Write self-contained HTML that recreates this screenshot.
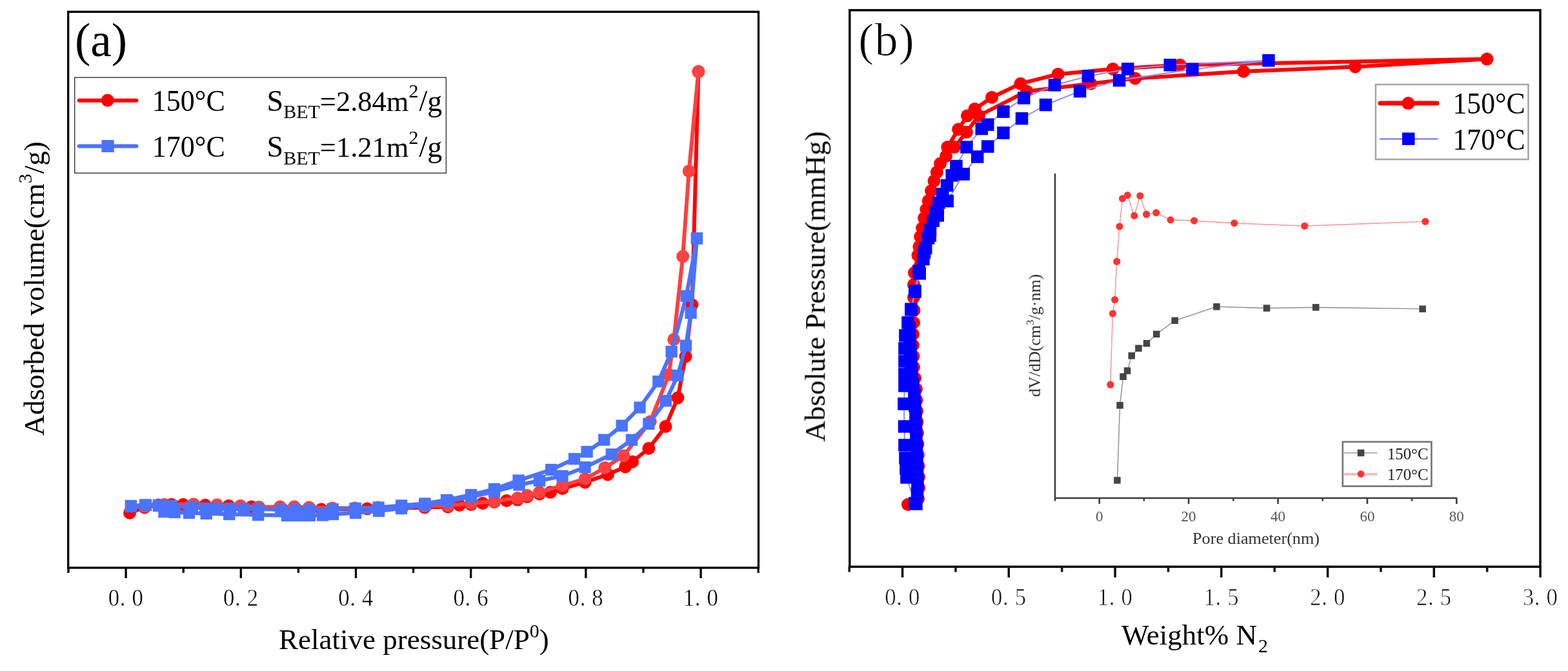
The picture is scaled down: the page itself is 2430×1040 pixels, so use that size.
<!DOCTYPE html>
<html><head><meta charset="utf-8"><title>BET isotherms</title>
<style>html,body{margin:0;padding:0;background:#fff;}svg{display:block;font-family:'Liberation Serif', 'Times New Roman', serif;}</style></head><body>
<svg width="2430" height="1040" viewBox="0 0 2430 1040">
<rect x="0" y="0" width="2430" height="1040" fill="#fff"/>
<g>
<polyline points="201.0,795.0 224.0,786.5 245.3,782.7 265.6,782.1 283.8,782.1 318.0,783.0 354.4,784.0 389.7,785.5 434.0,787.5 456.0,787.5 479.0,788.5 498.0,789.5 515.0,789.5 550.0,789.5 569.0,788.5 586.0,787.5 623.0,787.5 658.0,786.5 694.0,785.5 712.0,783.0 730.0,782.0 748.0,780.0 766.0,778.0 785.0,776.0 802.0,774.6 817.0,770.0 836.0,765.4 853.0,763.0 871.5,757.3 906.6,747.4 941.9,735.4 969.2,723.4 980.0,715.8 1005.4,695.0 1031.5,661.1 1050.4,616.5 1062.5,552.5 1072.5,472.5 1082.4,111.1" fill="none" stroke="#ff0000" stroke-width="6" stroke-linejoin="round" stroke-linecap="round" />
<circle cx="201.0" cy="795.0" r="10" fill="#ff0000"/>
<circle cx="224.0" cy="786.5" r="10" fill="#ff0000"/>
<circle cx="245.3" cy="782.7" r="10" fill="#ff0000"/>
<circle cx="265.6" cy="782.1" r="10" fill="#ff0000"/>
<circle cx="283.8" cy="782.1" r="10" fill="#ff0000"/>
<circle cx="318.0" cy="783.0" r="10" fill="#ff0000"/>
<circle cx="354.4" cy="784.0" r="10" fill="#ff0000"/>
<circle cx="389.7" cy="785.5" r="10" fill="#ff0000"/>
<circle cx="434.0" cy="787.5" r="10" fill="#ff0000"/>
<circle cx="456.0" cy="787.5" r="10" fill="#ff0000"/>
<circle cx="479.0" cy="788.5" r="10" fill="#ff0000"/>
<circle cx="498.0" cy="789.5" r="10" fill="#ff0000"/>
<circle cx="515.0" cy="789.5" r="10" fill="#ff0000"/>
<circle cx="550.0" cy="789.5" r="10" fill="#ff0000"/>
<circle cx="569.0" cy="788.5" r="10" fill="#ff0000"/>
<circle cx="586.0" cy="787.5" r="10" fill="#ff0000"/>
<circle cx="623.0" cy="787.5" r="10" fill="#ff0000"/>
<circle cx="658.0" cy="786.5" r="10" fill="#ff0000"/>
<circle cx="694.0" cy="785.5" r="10" fill="#ff0000"/>
<circle cx="712.0" cy="783.0" r="10" fill="#ff0000"/>
<circle cx="730.0" cy="782.0" r="10" fill="#ff0000"/>
<circle cx="748.0" cy="780.0" r="10" fill="#ff0000"/>
<circle cx="766.0" cy="778.0" r="10" fill="#ff0000"/>
<circle cx="785.0" cy="776.0" r="10" fill="#ff0000"/>
<circle cx="802.0" cy="774.6" r="10" fill="#ff0000"/>
<circle cx="817.0" cy="770.0" r="10" fill="#ff0000"/>
<circle cx="836.0" cy="765.4" r="10" fill="#ff0000"/>
<circle cx="853.0" cy="763.0" r="10" fill="#ff0000"/>
<circle cx="871.5" cy="757.3" r="10" fill="#ff0000"/>
<circle cx="906.6" cy="747.4" r="10" fill="#ff0000"/>
<circle cx="941.9" cy="735.4" r="10" fill="#ff0000"/>
<circle cx="969.2" cy="723.4" r="10" fill="#ff0000"/>
<circle cx="980.0" cy="715.8" r="10" fill="#ff0000"/>
<circle cx="1005.4" cy="695.0" r="10" fill="#ff0000"/>
<circle cx="1031.5" cy="661.1" r="10" fill="#ff0000"/>
<circle cx="1050.4" cy="616.5" r="10" fill="#ff0000"/>
<circle cx="1062.5" cy="552.5" r="10" fill="#ff0000"/>
<circle cx="1072.5" cy="472.5" r="10" fill="#ff0000"/>
<circle cx="1082.4" cy="111.1" r="10" fill="#ff0000"/>
<polyline points="1082.4,111.1 1067.7,265.2 1058.2,397.5 1044.2,526.2 1036.5,580.8 1007.7,653.5 966.2,706.5 937.3,725.0 906.6,742.3 871.5,752.7 835.8,763.0 817.0,768.0 802.0,772.0 766.0,777.0 730.0,780.0 694.0,783.5 658.0,784.5 622.0,785.5 586.0,786.5 550.0,787.5 515.0,787.5 479.0,786.5 456.0,785.5 434.0,785.5 401.5,786.0 372.6,784.0 336.2,782.5 300.0,781.5 254.9,782.0 224.0,785.0" fill="none" stroke="#ff4040" stroke-width="6" stroke-linejoin="round" stroke-linecap="round" />
<circle cx="1082.4" cy="111.1" r="10" fill="#ff4040"/>
<circle cx="1067.7" cy="265.2" r="10" fill="#ff4040"/>
<circle cx="1058.2" cy="397.5" r="10" fill="#ff4040"/>
<circle cx="1044.2" cy="526.2" r="10" fill="#ff4040"/>
<circle cx="1036.5" cy="580.8" r="10" fill="#ff4040"/>
<circle cx="1007.7" cy="653.5" r="10" fill="#ff4040"/>
<circle cx="966.2" cy="706.5" r="10" fill="#ff4040"/>
<circle cx="937.3" cy="725.0" r="10" fill="#ff4040"/>
<circle cx="906.6" cy="742.3" r="10" fill="#ff4040"/>
<circle cx="871.5" cy="752.7" r="10" fill="#ff4040"/>
<circle cx="835.8" cy="763.0" r="10" fill="#ff4040"/>
<circle cx="817.0" cy="768.0" r="10" fill="#ff4040"/>
<circle cx="802.0" cy="772.0" r="10" fill="#ff4040"/>
<circle cx="766.0" cy="777.0" r="10" fill="#ff4040"/>
<circle cx="730.0" cy="780.0" r="10" fill="#ff4040"/>
<circle cx="694.0" cy="783.5" r="10" fill="#ff4040"/>
<circle cx="658.0" cy="784.5" r="10" fill="#ff4040"/>
<circle cx="622.0" cy="785.5" r="10" fill="#ff4040"/>
<circle cx="586.0" cy="786.5" r="10" fill="#ff4040"/>
<circle cx="550.0" cy="787.5" r="10" fill="#ff4040"/>
<circle cx="515.0" cy="787.5" r="10" fill="#ff4040"/>
<circle cx="479.0" cy="786.5" r="10" fill="#ff4040"/>
<circle cx="456.0" cy="785.5" r="10" fill="#ff4040"/>
<circle cx="434.0" cy="785.5" r="10" fill="#ff4040"/>
<circle cx="401.5" cy="786.0" r="10" fill="#ff4040"/>
<circle cx="372.6" cy="784.0" r="10" fill="#ff4040"/>
<circle cx="336.2" cy="782.5" r="10" fill="#ff4040"/>
<circle cx="300.0" cy="781.5" r="10" fill="#ff4040"/>
<circle cx="254.9" cy="782.0" r="10" fill="#ff4040"/>
<circle cx="224.0" cy="785.0" r="10" fill="#ff4040"/>
<polyline points="203.0,784.0 226.0,783.0 246.0,784.0 254.5,793.3 270.5,794.0 293.0,795.0 319.6,796.0 355.2,797.0 400.0,798.1 445.0,799.0 463.0,799.0 480.0,799.0 500.0,798.5 516.0,797.0 551.0,795.0 587.0,792.0 622.0,788.0 658.0,783.0 694.0,777.0 730.0,770.0 766.0,762.0 804.6,751.5 836.0,745.0 871.5,737.7 906.6,724.3 947.7,704.2 978.9,681.8 1005.4,656.9 1031.9,621.2 1050.4,581.9 1063.0,535.7 1070.7,485.0 1080.0,369.5" fill="none" stroke="#4a73ff" stroke-width="6" stroke-linejoin="round" stroke-linecap="round" />
<rect x="193.8" y="774.9" width="18.3" height="18.3" fill="#4a73ff"/>
<rect x="216.8" y="773.9" width="18.3" height="18.3" fill="#4a73ff"/>
<rect x="236.8" y="774.9" width="18.3" height="18.3" fill="#4a73ff"/>
<rect x="245.3" y="784.1" width="18.3" height="18.3" fill="#4a73ff"/>
<rect x="261.4" y="784.9" width="18.3" height="18.3" fill="#4a73ff"/>
<rect x="283.9" y="785.9" width="18.3" height="18.3" fill="#4a73ff"/>
<rect x="310.5" y="786.9" width="18.3" height="18.3" fill="#4a73ff"/>
<rect x="346.1" y="787.9" width="18.3" height="18.3" fill="#4a73ff"/>
<rect x="390.9" y="789.0" width="18.3" height="18.3" fill="#4a73ff"/>
<rect x="435.9" y="789.9" width="18.3" height="18.3" fill="#4a73ff"/>
<rect x="453.9" y="789.9" width="18.3" height="18.3" fill="#4a73ff"/>
<rect x="470.9" y="789.9" width="18.3" height="18.3" fill="#4a73ff"/>
<rect x="490.9" y="789.4" width="18.3" height="18.3" fill="#4a73ff"/>
<rect x="506.9" y="787.9" width="18.3" height="18.3" fill="#4a73ff"/>
<rect x="541.9" y="785.9" width="18.3" height="18.3" fill="#4a73ff"/>
<rect x="577.9" y="782.9" width="18.3" height="18.3" fill="#4a73ff"/>
<rect x="612.9" y="778.9" width="18.3" height="18.3" fill="#4a73ff"/>
<rect x="648.9" y="773.9" width="18.3" height="18.3" fill="#4a73ff"/>
<rect x="684.9" y="767.9" width="18.3" height="18.3" fill="#4a73ff"/>
<rect x="720.9" y="760.9" width="18.3" height="18.3" fill="#4a73ff"/>
<rect x="756.9" y="752.9" width="18.3" height="18.3" fill="#4a73ff"/>
<rect x="795.5" y="742.4" width="18.3" height="18.3" fill="#4a73ff"/>
<rect x="826.9" y="735.9" width="18.3" height="18.3" fill="#4a73ff"/>
<rect x="862.4" y="728.6" width="18.3" height="18.3" fill="#4a73ff"/>
<rect x="897.5" y="715.1" width="18.3" height="18.3" fill="#4a73ff"/>
<rect x="938.6" y="695.1" width="18.3" height="18.3" fill="#4a73ff"/>
<rect x="969.8" y="672.6" width="18.3" height="18.3" fill="#4a73ff"/>
<rect x="996.2" y="647.8" width="18.3" height="18.3" fill="#4a73ff"/>
<rect x="1022.8" y="612.1" width="18.3" height="18.3" fill="#4a73ff"/>
<rect x="1041.2" y="572.8" width="18.3" height="18.3" fill="#4a73ff"/>
<rect x="1053.8" y="526.6" width="18.3" height="18.3" fill="#4a73ff"/>
<rect x="1061.5" y="475.9" width="18.3" height="18.3" fill="#4a73ff"/>
<rect x="1070.8" y="360.4" width="18.3" height="18.3" fill="#4a73ff"/>
<polyline points="1080.0,369.5 1063.7,458.7 1040.7,545.0 1020.4,591.2 991.5,631.5 963.8,659.7 936.2,681.8 909.6,700.3 890.0,711.2 854.2,728.0 803.5,744.6 766.0,758.0 730.0,767.0 692.0,775.0 658.5,780.5 622.2,783.5 586.5,786.5 550.8,788.0 515.6,789.0 479.3,790.0 456.9,790.0 435.0,790.0 400.0,789.0 378.0,789.0 357.0,788.0 336.0,788.0 318.0,788.0 298.0,786.0 266.0,784.0 246.0,783.0 225.0,782.5 203.0,785.0" fill="none" stroke="#4a73ff" stroke-width="6" stroke-linejoin="round" stroke-linecap="round" />
<rect x="1070.8" y="360.4" width="18.3" height="18.3" fill="#4a73ff"/>
<rect x="1054.5" y="449.6" width="18.3" height="18.3" fill="#4a73ff"/>
<rect x="1031.5" y="535.9" width="18.3" height="18.3" fill="#4a73ff"/>
<rect x="1011.2" y="582.1" width="18.3" height="18.3" fill="#4a73ff"/>
<rect x="982.4" y="622.4" width="18.3" height="18.3" fill="#4a73ff"/>
<rect x="954.6" y="650.6" width="18.3" height="18.3" fill="#4a73ff"/>
<rect x="927.1" y="672.6" width="18.3" height="18.3" fill="#4a73ff"/>
<rect x="900.5" y="691.1" width="18.3" height="18.3" fill="#4a73ff"/>
<rect x="880.9" y="702.1" width="18.3" height="18.3" fill="#4a73ff"/>
<rect x="845.1" y="718.9" width="18.3" height="18.3" fill="#4a73ff"/>
<rect x="794.4" y="735.5" width="18.3" height="18.3" fill="#4a73ff"/>
<rect x="756.9" y="748.9" width="18.3" height="18.3" fill="#4a73ff"/>
<rect x="720.9" y="757.9" width="18.3" height="18.3" fill="#4a73ff"/>
<rect x="682.9" y="765.9" width="18.3" height="18.3" fill="#4a73ff"/>
<rect x="649.4" y="771.4" width="18.3" height="18.3" fill="#4a73ff"/>
<rect x="613.1" y="774.4" width="18.3" height="18.3" fill="#4a73ff"/>
<rect x="577.4" y="777.4" width="18.3" height="18.3" fill="#4a73ff"/>
<rect x="541.6" y="778.9" width="18.3" height="18.3" fill="#4a73ff"/>
<rect x="506.5" y="779.9" width="18.3" height="18.3" fill="#4a73ff"/>
<rect x="470.2" y="780.9" width="18.3" height="18.3" fill="#4a73ff"/>
<rect x="447.8" y="780.9" width="18.3" height="18.3" fill="#4a73ff"/>
<rect x="425.9" y="780.9" width="18.3" height="18.3" fill="#4a73ff"/>
<rect x="390.9" y="779.9" width="18.3" height="18.3" fill="#4a73ff"/>
<rect x="368.9" y="779.9" width="18.3" height="18.3" fill="#4a73ff"/>
<rect x="347.9" y="778.9" width="18.3" height="18.3" fill="#4a73ff"/>
<rect x="326.9" y="778.9" width="18.3" height="18.3" fill="#4a73ff"/>
<rect x="308.9" y="778.9" width="18.3" height="18.3" fill="#4a73ff"/>
<rect x="288.9" y="776.9" width="18.3" height="18.3" fill="#4a73ff"/>
<rect x="256.9" y="774.9" width="18.3" height="18.3" fill="#4a73ff"/>
<rect x="236.8" y="773.9" width="18.3" height="18.3" fill="#4a73ff"/>
<rect x="215.8" y="773.4" width="18.3" height="18.3" fill="#4a73ff"/>
<rect x="193.8" y="775.9" width="18.3" height="18.3" fill="#4a73ff"/>
</g>
<rect x="105.7" y="18.3" width="1069.8" height="861.7" fill="none" stroke="#000" stroke-width="3.3"/>
<path d="M106.0,880.0V888.0M195.1,880.0V896.0M284.2,880.0V888.0M373.3,880.0V896.0M462.4,880.0V888.0M551.5,880.0V896.0M640.6,880.0V888.0M729.7,880.0V896.0M818.8,880.0V888.0M907.9,880.0V896.0M997.0,880.0V888.0M1086.1,880.0V896.0M1175.2,880.0V888.0" stroke="#000" stroke-width="3.3" fill="none"/>
<g transform="translate(195.1,939.4) scale(0.94,1)"><text font-size="37" fill="#000" text-anchor="middle" stroke="#fff" stroke-width="0.5"><tspan x="-19.8" y="0">0</tspan><tspan x="-5.2" y="0">.</tspan><tspan x="19.3" y="0">0</tspan></text></g>
<g transform="translate(373.3,939.4) scale(0.94,1)"><text font-size="37" fill="#000" text-anchor="middle" stroke="#fff" stroke-width="0.5"><tspan x="-19.8" y="0">0</tspan><tspan x="-5.2" y="0">.</tspan><tspan x="19.3" y="0">2</tspan></text></g>
<g transform="translate(551.5,939.4) scale(0.94,1)"><text font-size="37" fill="#000" text-anchor="middle" stroke="#fff" stroke-width="0.5"><tspan x="-19.8" y="0">0</tspan><tspan x="-5.2" y="0">.</tspan><tspan x="19.3" y="0">4</tspan></text></g>
<g transform="translate(729.7,939.4) scale(0.94,1)"><text font-size="37" fill="#000" text-anchor="middle" stroke="#fff" stroke-width="0.5"><tspan x="-19.8" y="0">0</tspan><tspan x="-5.2" y="0">.</tspan><tspan x="19.3" y="0">6</tspan></text></g>
<g transform="translate(907.9,939.4) scale(0.94,1)"><text font-size="37" fill="#000" text-anchor="middle" stroke="#fff" stroke-width="0.5"><tspan x="-19.8" y="0">0</tspan><tspan x="-5.2" y="0">.</tspan><tspan x="19.3" y="0">8</tspan></text></g>
<g transform="translate(1086.1,939.4) scale(0.94,1)"><text font-size="37" fill="#000" text-anchor="middle" stroke="#fff" stroke-width="0.5"><tspan x="-19.8" y="0">1</tspan><tspan x="-5.2" y="0">.</tspan><tspan x="19.3" y="0">0</tspan></text></g>
<text x="116" y="86.6" font-size="73" text-anchor="start" fill="#000" >(a)</text>
<rect x="115.7" y="120.1" width="575.7" height="148.2" fill="#fff" stroke="#404040" stroke-width="1.5"/>
<line x1="122.7" y1="155.8" x2="211.5" y2="155.8" stroke="#ff0000" stroke-width="6" stroke-linecap="round"/>
<circle cx="166.7" cy="155.5" r="10" fill="#ff0000"/>
<line x1="122.7" y1="226.4" x2="211.5" y2="226.4" stroke="#4a73ff" stroke-width="6" stroke-linecap="round"/>
<rect x="157.4" y="217" width="19.3" height="19" fill="#4a73ff"/>
<text x="235.8" y="171.6" font-size="47" text-anchor="start" fill="#000" textLength="113" lengthAdjust="spacingAndGlyphs">150°C</text>
<text x="235.8" y="242.8" font-size="47" text-anchor="start" fill="#000" textLength="113" lengthAdjust="spacingAndGlyphs">170°C</text>
<text y="171.8" font-size="46"><tspan x="413.6">S</tspan><tspan font-size="30" dy="11.5">BET</tspan><tspan font-size="44.5" dy="-11.5">=2.84m</tspan><tspan font-size="30" dy="-20.5">2</tspan><tspan font-size="46" dx="1" dy="20.5">/g</tspan></text>
<text y="243.1" font-size="46"><tspan x="413.6">S</tspan><tspan font-size="30" dy="11.5">BET</tspan><tspan font-size="44.5" dy="-11.5">=1.21m</tspan><tspan font-size="30" dy="-20.5">2</tspan><tspan font-size="46" dx="1" dy="20.5">/g</tspan></text>
<text transform="translate(67.8,675.5) rotate(-90)" font-size="45">Adsorbed volume(cm<tspan font-size="30" dy="-19">3</tspan><tspan dy="19">/g)</tspan></text>
<text x="432" y="1005.9" font-size="45">Relative pressure(P/P<tspan font-size="30" dy="-18">0</tspan><tspan dy="18">)</tspan></text>
<defs><filter id="soft" filterUnits="userSpaceOnUse" x="1200" y="0" width="1230" height="1040"><feGaussianBlur stdDeviation="0.55"/></filter></defs>
<g filter="url(#soft)">
<g>
<polyline points="1407.0,782.0 1423.0,773.0 1424.0,756.0 1424.0,739.0 1423.5,722.0 1423.0,705.0 1422.5,688.0 1422.0,671.0 1421.5,654.0 1421.0,637.0 1420.5,620.0 1420.0,603.0 1418.0,586.0 1416.0,569.0 1415.5,552.0 1415.0,535.0 1415.0,518.0 1416.0,500.0 1416.5,481.0 1416.0,461.0 1416.0,441.0 1417.0,422.7 1422.5,395.8 1426.3,366.9 1432.1,338.1 1438.8,311.2 1447.5,280.4 1457.1,253.5 1468.3,228.1 1485.2,200.6 1499.0,179.4 1510.6,168.9 1537.1,150.9 1581.5,129.7 1639.7,114.9 1724.6,106.9 1828.5,100.8 2304.4,91.6" fill="none" stroke="#ff0000" stroke-width="6" stroke-linejoin="round" stroke-linecap="round" />
<polyline points="2304.4,91.6 2100.3,103.5 1927.0,110.8 1759.2,121.5 1690.5,129.7 1591.0,141.4 1517.0,179.4 1497.9,204.8 1478.9,228.1 1466.0,242.0 1451.9,266.9 1443.1,295.8 1435.4,324.6 1429.2,353.5 1424.4,382.3 1420.0,410.0 1418.0,430.0" fill="none" stroke="#ff0000" stroke-width="6" stroke-linejoin="round" stroke-linecap="round" />
<circle cx="1407.0" cy="782.0" r="10" fill="#ff0000"/>
<circle cx="1423.0" cy="773.0" r="10" fill="#ff0000"/>
<circle cx="1424.0" cy="756.0" r="10" fill="#ff0000"/>
<circle cx="1424.0" cy="739.0" r="10" fill="#ff0000"/>
<circle cx="1423.5" cy="722.0" r="10" fill="#ff0000"/>
<circle cx="1423.0" cy="705.0" r="10" fill="#ff0000"/>
<circle cx="1422.5" cy="688.0" r="10" fill="#ff0000"/>
<circle cx="1422.0" cy="671.0" r="10" fill="#ff0000"/>
<circle cx="1421.5" cy="654.0" r="10" fill="#ff0000"/>
<circle cx="1421.0" cy="637.0" r="10" fill="#ff0000"/>
<circle cx="1420.5" cy="620.0" r="10" fill="#ff0000"/>
<circle cx="1420.0" cy="603.0" r="10" fill="#ff0000"/>
<circle cx="1418.0" cy="586.0" r="10" fill="#ff0000"/>
<circle cx="1416.0" cy="569.0" r="10" fill="#ff0000"/>
<circle cx="1415.5" cy="552.0" r="10" fill="#ff0000"/>
<circle cx="1415.0" cy="535.0" r="10" fill="#ff0000"/>
<circle cx="1415.0" cy="518.0" r="10" fill="#ff0000"/>
<circle cx="1416.0" cy="500.0" r="10" fill="#ff0000"/>
<circle cx="1416.5" cy="481.0" r="10" fill="#ff0000"/>
<circle cx="1416.0" cy="461.0" r="10" fill="#ff0000"/>
<circle cx="1416.0" cy="441.0" r="10" fill="#ff0000"/>
<circle cx="1417.0" cy="422.7" r="10" fill="#ff0000"/>
<circle cx="1422.5" cy="395.8" r="10" fill="#ff0000"/>
<circle cx="1426.3" cy="366.9" r="10" fill="#ff0000"/>
<circle cx="1432.1" cy="338.1" r="10" fill="#ff0000"/>
<circle cx="1438.8" cy="311.2" r="10" fill="#ff0000"/>
<circle cx="1447.5" cy="280.4" r="10" fill="#ff0000"/>
<circle cx="1457.1" cy="253.5" r="10" fill="#ff0000"/>
<circle cx="1468.3" cy="228.1" r="10" fill="#ff0000"/>
<circle cx="1485.2" cy="200.6" r="10" fill="#ff0000"/>
<circle cx="1499.0" cy="179.4" r="10" fill="#ff0000"/>
<circle cx="1510.6" cy="168.9" r="10" fill="#ff0000"/>
<circle cx="1537.1" cy="150.9" r="10" fill="#ff0000"/>
<circle cx="1581.5" cy="129.7" r="10" fill="#ff0000"/>
<circle cx="1639.7" cy="114.9" r="10" fill="#ff0000"/>
<circle cx="1724.6" cy="106.9" r="10" fill="#ff0000"/>
<circle cx="1828.5" cy="100.8" r="10" fill="#ff0000"/>
<circle cx="2304.4" cy="91.6" r="10" fill="#ff0000"/>
<circle cx="2100.3" cy="103.5" r="10" fill="#ff0000"/>
<circle cx="1927.0" cy="110.8" r="10" fill="#ff0000"/>
<circle cx="1759.2" cy="121.5" r="10" fill="#ff0000"/>
<circle cx="1690.5" cy="129.7" r="10" fill="#ff0000"/>
<circle cx="1591.0" cy="141.4" r="10" fill="#ff0000"/>
<circle cx="1517.0" cy="179.4" r="10" fill="#ff0000"/>
<circle cx="1497.9" cy="204.8" r="10" fill="#ff0000"/>
<circle cx="1478.9" cy="228.1" r="10" fill="#ff0000"/>
<circle cx="1466.0" cy="242.0" r="10" fill="#ff0000"/>
<circle cx="1451.9" cy="266.9" r="10" fill="#ff0000"/>
<circle cx="1443.1" cy="295.8" r="10" fill="#ff0000"/>
<circle cx="1435.4" cy="324.6" r="10" fill="#ff0000"/>
<circle cx="1429.2" cy="353.5" r="10" fill="#ff0000"/>
<circle cx="1424.4" cy="382.3" r="10" fill="#ff0000"/>
<polyline points="1420.0,781.0 1421.5,765.0 1422.0,748.0 1421.5,731.0 1421.0,714.0 1420.5,697.0 1420.0,680.0 1419.5,663.0 1419.0,646.0 1418.0,629.0 1417.0,612.0 1415.0,595.0 1413.0,578.0 1412.0,561.0 1411.0,544.0 1410.0,526.0 1409.4,507.7 1412.3,479.2 1417.8,452.2 1425.2,423.8 1431.0,401.7 1434.8,384.4 1438.6,369.0 1441.5,356.5 1446.3,342.1 1450.2,328.6 1455.0,314.2 1460.8,300.8 1467.5,287.3 1475.2,271.9 1481.9,257.5 1497.9,228.1 1521.2,199.6 1530.7,193.2 1555.0,173.1 1586.8,152.0 1634.4,131.8 1686.2,118.1 1747.7,106.9 1813.2,100.8 1966.0,93.7" fill="none" stroke="#8c8cff" stroke-width="2" stroke-linejoin="round" stroke-linecap="round" />
<polyline points="1966.0,93.7 1848.0,107.4 1734.6,124.6 1673.5,141.4 1620.6,162.5 1583.6,183.7 1555.0,205.9 1530.7,227.1 1514.8,243.0 1493.3,269.8 1468.3,311.5 1453.3,334.0 1441.2,365.0 1432.6,391.0 1424.0,420.0 1418.0,451.0 1412.0,480.0 1407.0,500.0 1403.0,520.0 1402.0,540.0 1402.0,560.0 1402.0,580.0 1402.0,598.0 1401.0,626.0 1401.5,661.0 1402.0,690.0 1403.0,710.0 1404.0,726.0 1405.0,740.0 1418.0,780.0" fill="none" stroke="#8c8cff" stroke-width="2" stroke-linejoin="round" stroke-linecap="round" />
<rect x="1410.2" y="771.2" width="19.5" height="19.5" fill="#0000ff"/>
<rect x="1411.8" y="755.2" width="19.5" height="19.5" fill="#0000ff"/>
<rect x="1412.2" y="738.2" width="19.5" height="19.5" fill="#0000ff"/>
<rect x="1411.8" y="721.2" width="19.5" height="19.5" fill="#0000ff"/>
<rect x="1411.2" y="704.2" width="19.5" height="19.5" fill="#0000ff"/>
<rect x="1410.8" y="687.2" width="19.5" height="19.5" fill="#0000ff"/>
<rect x="1410.2" y="670.2" width="19.5" height="19.5" fill="#0000ff"/>
<rect x="1409.8" y="653.2" width="19.5" height="19.5" fill="#0000ff"/>
<rect x="1409.2" y="636.2" width="19.5" height="19.5" fill="#0000ff"/>
<rect x="1408.2" y="619.2" width="19.5" height="19.5" fill="#0000ff"/>
<rect x="1407.2" y="602.2" width="19.5" height="19.5" fill="#0000ff"/>
<rect x="1405.2" y="585.2" width="19.5" height="19.5" fill="#0000ff"/>
<rect x="1403.2" y="568.2" width="19.5" height="19.5" fill="#0000ff"/>
<rect x="1402.2" y="551.2" width="19.5" height="19.5" fill="#0000ff"/>
<rect x="1401.2" y="534.2" width="19.5" height="19.5" fill="#0000ff"/>
<rect x="1400.2" y="516.2" width="19.5" height="19.5" fill="#0000ff"/>
<rect x="1399.7" y="497.9" width="19.5" height="19.5" fill="#0000ff"/>
<rect x="1402.5" y="469.4" width="19.5" height="19.5" fill="#0000ff"/>
<rect x="1408.0" y="442.4" width="19.5" height="19.5" fill="#0000ff"/>
<rect x="1415.5" y="414.1" width="19.5" height="19.5" fill="#0000ff"/>
<rect x="1421.2" y="391.9" width="19.5" height="19.5" fill="#0000ff"/>
<rect x="1425.0" y="374.6" width="19.5" height="19.5" fill="#0000ff"/>
<rect x="1428.8" y="359.2" width="19.5" height="19.5" fill="#0000ff"/>
<rect x="1431.8" y="346.8" width="19.5" height="19.5" fill="#0000ff"/>
<rect x="1436.5" y="332.4" width="19.5" height="19.5" fill="#0000ff"/>
<rect x="1440.5" y="318.9" width="19.5" height="19.5" fill="#0000ff"/>
<rect x="1445.2" y="304.4" width="19.5" height="19.5" fill="#0000ff"/>
<rect x="1451.0" y="291.1" width="19.5" height="19.5" fill="#0000ff"/>
<rect x="1457.8" y="277.6" width="19.5" height="19.5" fill="#0000ff"/>
<rect x="1465.5" y="262.1" width="19.5" height="19.5" fill="#0000ff"/>
<rect x="1472.2" y="247.8" width="19.5" height="19.5" fill="#0000ff"/>
<rect x="1488.2" y="218.3" width="19.5" height="19.5" fill="#0000ff"/>
<rect x="1511.5" y="189.8" width="19.5" height="19.5" fill="#0000ff"/>
<rect x="1521.0" y="183.4" width="19.5" height="19.5" fill="#0000ff"/>
<rect x="1545.2" y="163.3" width="19.5" height="19.5" fill="#0000ff"/>
<rect x="1577.0" y="142.2" width="19.5" height="19.5" fill="#0000ff"/>
<rect x="1624.7" y="122.1" width="19.5" height="19.5" fill="#0000ff"/>
<rect x="1676.5" y="108.3" width="19.5" height="19.5" fill="#0000ff"/>
<rect x="1738.0" y="97.2" width="19.5" height="19.5" fill="#0000ff"/>
<rect x="1803.5" y="91.0" width="19.5" height="19.5" fill="#0000ff"/>
<rect x="1956.2" y="84.0" width="19.5" height="19.5" fill="#0000ff"/>
<rect x="1838.2" y="97.7" width="19.5" height="19.5" fill="#0000ff"/>
<rect x="1724.8" y="114.8" width="19.5" height="19.5" fill="#0000ff"/>
<rect x="1663.8" y="131.7" width="19.5" height="19.5" fill="#0000ff"/>
<rect x="1610.8" y="152.8" width="19.5" height="19.5" fill="#0000ff"/>
<rect x="1573.8" y="173.9" width="19.5" height="19.5" fill="#0000ff"/>
<rect x="1545.2" y="196.2" width="19.5" height="19.5" fill="#0000ff"/>
<rect x="1521.0" y="217.3" width="19.5" height="19.5" fill="#0000ff"/>
<rect x="1505.0" y="233.2" width="19.5" height="19.5" fill="#0000ff"/>
<rect x="1483.5" y="260.1" width="19.5" height="19.5" fill="#0000ff"/>
<rect x="1458.5" y="301.8" width="19.5" height="19.5" fill="#0000ff"/>
<rect x="1443.5" y="324.2" width="19.5" height="19.5" fill="#0000ff"/>
<rect x="1431.5" y="355.2" width="19.5" height="19.5" fill="#0000ff"/>
<rect x="1422.8" y="381.2" width="19.5" height="19.5" fill="#0000ff"/>
<rect x="1414.2" y="410.2" width="19.5" height="19.5" fill="#0000ff"/>
<rect x="1408.2" y="441.2" width="19.5" height="19.5" fill="#0000ff"/>
<rect x="1402.2" y="470.2" width="19.5" height="19.5" fill="#0000ff"/>
<rect x="1397.2" y="490.2" width="19.5" height="19.5" fill="#0000ff"/>
<rect x="1393.2" y="510.2" width="19.5" height="19.5" fill="#0000ff"/>
<rect x="1392.2" y="530.2" width="19.5" height="19.5" fill="#0000ff"/>
<rect x="1392.2" y="550.2" width="19.5" height="19.5" fill="#0000ff"/>
<rect x="1392.2" y="570.2" width="19.5" height="19.5" fill="#0000ff"/>
<rect x="1392.2" y="588.2" width="19.5" height="19.5" fill="#0000ff"/>
<rect x="1391.2" y="616.2" width="19.5" height="19.5" fill="#0000ff"/>
<rect x="1391.8" y="651.2" width="19.5" height="19.5" fill="#0000ff"/>
<rect x="1392.2" y="680.2" width="19.5" height="19.5" fill="#0000ff"/>
<rect x="1393.2" y="700.2" width="19.5" height="19.5" fill="#0000ff"/>
<rect x="1394.2" y="716.2" width="19.5" height="19.5" fill="#0000ff"/>
<rect x="1395.2" y="730.2" width="19.5" height="19.5" fill="#0000ff"/>
<rect x="1408.2" y="770.2" width="19.5" height="19.5" fill="#0000ff"/>
</g>
<rect x="1316.8" y="15.8" width="1070.2" height="862.6" fill="none" stroke="#000" stroke-width="3.5"/>
<path d="M1316.2,878.4V886.4M1398.6,878.4V894.9M1481.0,878.4V886.4M1563.3,878.4V894.9M1645.7,878.4V886.4M1728.1,878.4V894.9M1810.5,878.4V886.4M1892.8,878.4V894.9M1975.2,878.4V886.4M2057.6,878.4V894.9M2140.0,878.4V886.4M2222.3,878.4V894.9M2304.7,878.4V886.4M2387.1,878.4V894.9" stroke="#111" stroke-width="3.5" fill="none"/>
<g transform="translate(1398.6,938) scale(0.94,1)"><text font-size="37" fill="#111" text-anchor="middle" stroke="#fff" stroke-width="0.7"><tspan x="-19.8" y="0">0</tspan><tspan x="-5.2" y="0">.</tspan><tspan x="19.3" y="0">0</tspan></text></g>
<g transform="translate(1563.3,938) scale(0.94,1)"><text font-size="37" fill="#111" text-anchor="middle" stroke="#fff" stroke-width="0.7"><tspan x="-19.8" y="0">0</tspan><tspan x="-5.2" y="0">.</tspan><tspan x="19.3" y="0">5</tspan></text></g>
<g transform="translate(1728.1,938) scale(0.94,1)"><text font-size="37" fill="#111" text-anchor="middle" stroke="#fff" stroke-width="0.7"><tspan x="-19.8" y="0">1</tspan><tspan x="-5.2" y="0">.</tspan><tspan x="19.3" y="0">0</tspan></text></g>
<g transform="translate(1892.8,938) scale(0.94,1)"><text font-size="37" fill="#111" text-anchor="middle" stroke="#fff" stroke-width="0.7"><tspan x="-19.8" y="0">1</tspan><tspan x="-5.2" y="0">.</tspan><tspan x="19.3" y="0">5</tspan></text></g>
<g transform="translate(2057.6,938) scale(0.94,1)"><text font-size="37" fill="#111" text-anchor="middle" stroke="#fff" stroke-width="0.7"><tspan x="-19.8" y="0">2</tspan><tspan x="-5.2" y="0">.</tspan><tspan x="19.3" y="0">0</tspan></text></g>
<g transform="translate(2222.3,938) scale(0.94,1)"><text font-size="37" fill="#111" text-anchor="middle" stroke="#fff" stroke-width="0.7"><tspan x="-19.8" y="0">2</tspan><tspan x="-5.2" y="0">.</tspan><tspan x="19.3" y="0">5</tspan></text></g>
<g transform="translate(2387.1,938) scale(0.94,1)"><text font-size="37" fill="#111" text-anchor="middle" stroke="#fff" stroke-width="0.7"><tspan x="-19.8" y="0">3</tspan><tspan x="-5.2" y="0">.</tspan><tspan x="19.3" y="0">0</tspan></text></g>
<text x="1330.3" y="85.5" font-size="72" text-anchor="start" fill="#000" letter-spacing="1.2" stroke="#fff" stroke-width="0.9">(b)</text>
<rect x="2131.9" y="131" width="236.6" height="116" fill="#fff" stroke="#a8a8a8" stroke-width="2.6"/>
<line x1="2139" y1="160.1" x2="2227" y2="160.1" stroke="#ff0000" stroke-width="7" stroke-linecap="round"/>
<circle cx="2182.3" cy="160.1" r="10" fill="#ff0000"/>
<line x1="2138" y1="215.3" x2="2228.5" y2="215.3" stroke="#8c8cff" stroke-width="2.7"/>
<rect x="2173" y="205.5" width="19.5" height="19.3" fill="#0000ff"/>
<text x="2251.5" y="176.3" font-size="47" text-anchor="start" fill="#000" textLength="112" lengthAdjust="spacingAndGlyphs">150°C</text>
<text x="2251.5" y="231.5" font-size="47" text-anchor="start" fill="#000" textLength="112" lengthAdjust="spacingAndGlyphs">170°C</text>
<text transform="translate(1278.3,684.6) rotate(-90)" font-size="45">Absolute Pressure(mmHg)</text>
<text x="1738" y="998.7" font-size="45">Weight% N<tspan font-size="30" dx="2" dy="12">2</tspan></text>
<path d="M1635.0,269.0V776.5M1635.0,772.0H2258.0" stroke="#3c3c3c" stroke-width="2.6" fill="none"/>
<path d="M1703.7,772.0V781.0M1772.9,772.0V776.5M1842.1,772.0V781.0M1911.3,772.0V776.5M1980.5,772.0V781.0M2049.7,772.0V776.5M2118.9,772.0V781.0M2188.1,772.0V776.5M2257.3,772.0V781.0" stroke="#3c3c3c" stroke-width="2.6" fill="none"/>
<text x="1703.7" y="808" font-size="23" text-anchor="middle" fill="#555" >0</text>
<text x="1842.1" y="808" font-size="23" text-anchor="middle" fill="#555" >20</text>
<text x="1980.5" y="808" font-size="23" text-anchor="middle" fill="#555" >40</text>
<text x="2118.9" y="808" font-size="23" text-anchor="middle" fill="#555" >60</text>
<text x="2257.3" y="808" font-size="23" text-anchor="middle" fill="#555" >80</text>
<polyline points="1720.8,596.2 1724.4,486.0 1727.7,464.6 1730.8,405.4 1735.0,351.0 1739.5,307.8 1747.2,302.6 1757.8,334.4 1766.8,303.5 1776.6,332.2 1791.8,329.7 1814.1,340.9 1850.5,342.1 1912.8,345.9 2021.7,350.3 2208.9,343.3" fill="none" stroke="#ff9a9a" stroke-width="1.6" stroke-linejoin="round" stroke-linecap="round" />
<circle cx="1720.8" cy="596.2" r="5.6" fill="#ff3333"/>
<circle cx="1724.4" cy="486.0" r="5.6" fill="#ff3333"/>
<circle cx="1727.7" cy="464.6" r="5.6" fill="#ff3333"/>
<circle cx="1730.8" cy="405.4" r="5.6" fill="#ff3333"/>
<circle cx="1735.0" cy="351.0" r="5.6" fill="#ff3333"/>
<circle cx="1739.5" cy="307.8" r="5.6" fill="#ff3333"/>
<circle cx="1747.2" cy="302.6" r="5.6" fill="#ff3333"/>
<circle cx="1757.8" cy="334.4" r="5.6" fill="#ff3333"/>
<circle cx="1766.8" cy="303.5" r="5.6" fill="#ff3333"/>
<circle cx="1776.6" cy="332.2" r="5.6" fill="#ff3333"/>
<circle cx="1791.8" cy="329.7" r="5.6" fill="#ff3333"/>
<circle cx="1814.1" cy="340.9" r="5.6" fill="#ff3333"/>
<circle cx="1850.5" cy="342.1" r="5.6" fill="#ff3333"/>
<circle cx="1912.8" cy="345.9" r="5.6" fill="#ff3333"/>
<circle cx="2021.7" cy="350.3" r="5.6" fill="#ff3333"/>
<circle cx="2208.9" cy="343.3" r="5.6" fill="#ff3333"/>
<polyline points="1731.5,744.5 1735.6,628.3 1740.6,583.7 1747.1,574.6 1753.7,551.4 1764.4,539.9 1777.0,532.2 1792.3,517.9 1820.7,496.9 1885.5,475.3 1963.1,477.6 2039.3,476.4 2204.7,478.8" fill="none" stroke="#9a9a9a" stroke-width="1.6" stroke-linejoin="round" stroke-linecap="round" />
<rect x="1726.2" y="739.2" width="10.5" height="10.5" fill="#454545"/>
<rect x="1730.3" y="623.0" width="10.5" height="10.5" fill="#454545"/>
<rect x="1735.3" y="578.5" width="10.5" height="10.5" fill="#454545"/>
<rect x="1741.8" y="569.4" width="10.5" height="10.5" fill="#454545"/>
<rect x="1748.5" y="546.1" width="10.5" height="10.5" fill="#454545"/>
<rect x="1759.2" y="534.6" width="10.5" height="10.5" fill="#454545"/>
<rect x="1771.8" y="527.0" width="10.5" height="10.5" fill="#454545"/>
<rect x="1787.0" y="512.6" width="10.5" height="10.5" fill="#454545"/>
<rect x="1815.5" y="491.6" width="10.5" height="10.5" fill="#454545"/>
<rect x="1880.2" y="470.1" width="10.5" height="10.5" fill="#454545"/>
<rect x="1957.8" y="472.4" width="10.5" height="10.5" fill="#454545"/>
<rect x="2034.0" y="471.1" width="10.5" height="10.5" fill="#454545"/>
<rect x="2199.4" y="473.6" width="10.5" height="10.5" fill="#454545"/>
<text x="1848" y="842.5" font-size="26.2" fill="#333">Pore diameter(nm)</text>
<text transform="translate(1612.2,615.2) rotate(-90)" font-size="26" fill="#333">dV/dD(cm<tspan font-size="17" dy="-10">3</tspan><tspan dy="10">/g·nm)</tspan></text>
<rect x="2080.8" y="684.8" width="137.6" height="68.8" fill="#fff" stroke="#747474" stroke-width="2.6"/>
<line x1="2083" y1="702" x2="2134.5" y2="702" stroke="#9a9a9a" stroke-width="1.6"/>
<rect x="2103.8" y="696.7" width="10.6" height="10.6" fill="#454545"/>
<line x1="2083" y1="735" x2="2134.5" y2="735" stroke="#ffb4b4" stroke-width="3.5"/>
<circle cx="2109" cy="734.6" r="5.4" fill="#ff3333"/>
<text x="2150" y="711.5" font-size="26" text-anchor="start" fill="#222" textLength="63.5" lengthAdjust="spacingAndGlyphs">150°C</text>
<text x="2150" y="743.5" font-size="26" text-anchor="start" fill="#222" textLength="63.5" lengthAdjust="spacingAndGlyphs">170°C</text>
</g>
</svg></body></html>
